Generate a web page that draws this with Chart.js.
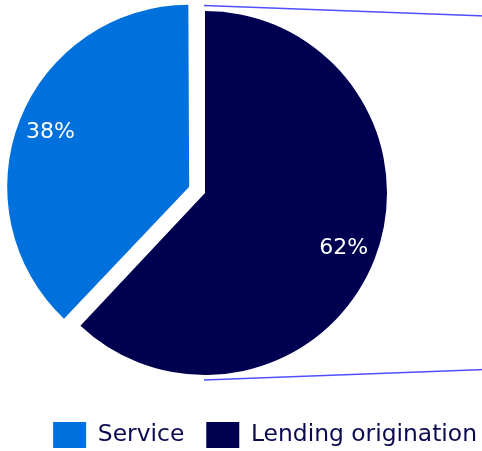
<!DOCTYPE html>
<html>
<head>
<meta charset="utf-8">
<script src="https://cdn.jsdelivr.net/npm/chart.js@4.4.1/dist/chart.umd.min.js"></script>
<style>
  html, body { margin: 0; padding: 0; background: #fff; overflow: hidden; }
  body { width: 482px; height: 451px; position: relative; }
  /* canvas piu largo della pagina: torta spostata a sinistra, legenda a destra */
  #wrap { position: absolute; left: -89px; top: -14px; width: 588px; height: 472px; }
</style>
</head>
<body>
<div id="wrap"><canvas id="chartQuote"></canvas></div>
<script>
// dati
const categorie = ['Service', 'Lending origination'];
const valori = [38, 62];
const colori = ['#0070dc', '#000050'];
const esplosione = [68, 0];

const FONT = '"DejaVu Sans", sans-serif';
const totale = valori.reduce((a, b) => a + b, 0);

// la fetta esplosa non deve diventare piu grande
const pluginRaggio = {
    id: 'raggio',
    afterDatasetsUpdate(chart) {
        chart.getDatasetMeta(0).data.forEach((arc, i) => {
            const fix = 1 - Math.sin(Math.min(Math.PI, arc.circumference));
            arc.outerRadius -= (esplosione[i] / 4) * fix;
        });
    }
};

// percentuali dentro le fette
const pluginPercentuali = {
    id: 'percentuali',
    afterDatasetsDraw(chart) {
        const ctx = chart.ctx;
        const archi = chart.getDatasetMeta(0).data;
        const R = archi[1].outerRadius;
        ctx.save();
        ctx.fillStyle = '#ffffff';
        ctx.font = '22px ' + FONT;
        ctx.textAlign = 'center';
        ctx.textBaseline = 'middle';
        archi.forEach((arc, i) => {
            const meta = (arc.startAngle + arc.endAngle) / 2;
            const d = esplosione[i] / 4 + R * 0.82;
            const testo = Math.round(valori[i] / totale * 100) + '%';
            ctx.fillText(testo, arc.x + Math.cos(meta) * d, arc.y + Math.sin(meta) * d);
        });
        ctx.restore();
    }
};

// linee di collegamento verso destra
const pluginLinee = {
    id: 'linee',
    afterDraw(chart) {
        const ctx = chart.ctx;
        const arc = chart.getDatasetMeta(0).data[1];
        const R = arc.outerRadius;
        ctx.save();
        ctx.strokeStyle = 'rgba(60, 60, 255, 0.9)';
        ctx.lineWidth = 1.3;
        ctx.beginPath();
        ctx.moveTo(arc.x - 1, arc.y - R - 5.5);
        ctx.lineTo(chart.width, arc.y - R + 5.5);
        ctx.moveTo(arc.x - 1, arc.y + R + 5);
        ctx.lineTo(chart.width, arc.y + R - 6);
        ctx.stroke();
        ctx.restore();
    }
};

const ctx = document.getElementById('chartQuote').getContext('2d');

const dataQuote = {
    labels: categorie,
    datasets: [{
        data: valori,
        backgroundColor: colori,
        borderWidth: 0,
        offset: esplosione,
        hoverOffset: 0
    }]
};

const configQuote = {
    type: 'pie',
    data: dataQuote,
    options: {
        responsive: true,
        maintainAspectRatio: false,
        animation: false,
        radius: 182,
        rotation: -valori[0] / totale * 360,
        layout: { padding: 0 },
        plugins: {
            tooltip: { enabled: false },
            legend: {
                position: 'bottom',
                align: 'end',
                labels: {
                    boxWidth: 33,
                    boxHeight: 26,
                    padding: 22,
                    color: '#0a0a50',
                    font: { family: FONT, size: 23.4 }
                }
            }
        }
    },
    plugins: [pluginRaggio, pluginPercentuali, pluginLinee]
};

const chartQuote = new Chart(ctx, configQuote);
</script>
</body>
</html>
